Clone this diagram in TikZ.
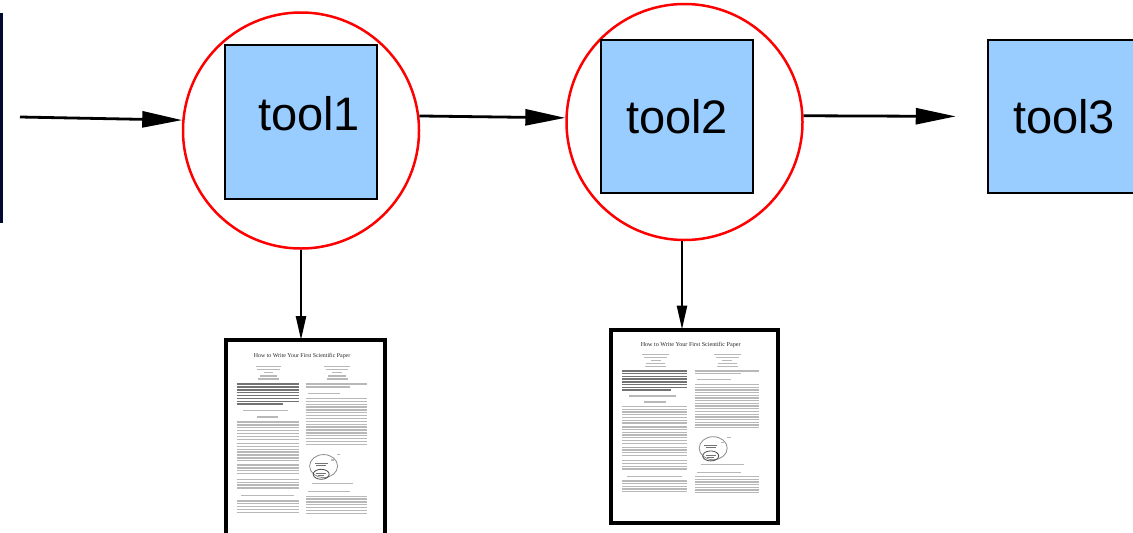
\documentclass[tikz,border=0pt]{standalone}
\usepackage{fontspec}
\setmainfont{Liberation Sans}
\newfontfamily\thumbserif{Liberation Serif}
\usetikzlibrary{arrows.meta}
\definecolor{boxblue}{HTML}{99CCFF}
\definecolor{edgenavy}{HTML}{000A33}
\tikzset{
  toolbox/.style={draw=black, line width=2.5pt, fill=boxblue, rectangle,
    minimum width=152pt, minimum height=153pt, inner sep=0pt,
    font=\fontsize{47}{56}\selectfont},
  ring/.style={draw=red, line width=2.5pt, circle, minimum size=236pt, inner sep=0pt},
  bigarrow/.style={line width=2.8pt, -{Triangle[length=40pt,width=16pt]}},
  smallarrow/.style={line width=2.5pt, -{Triangle[length=24pt,width=10pt]}},
  paperbox/.style={draw=black, line width=4pt, fill=white, rectangle, inner sep=0pt, outer sep=0pt},
  txt/.style={line width=1.3pt, black!28},
  txtdark/.style={line width=1.4pt, black!55},
}
\newcommand\thumbcontent[4]{%
  \begin{scope}[shift={(#1.north west)}, x=#2pt, y=-#3pt]
    \node[font=\fontsize{#4}{7}\selectfont\thumbserif, text=black!85, inner sep=0pt] at (0.48,0.08) {How to Write Your First Scientific Paper};
    % author blocks
    \foreach \cx in {0.27,0.70}{
      \draw[txt] (\cx-0.08,0.130) -- (\cx+0.08,0.130);
      \draw[txt] (\cx-0.07,0.145) -- (\cx+0.07,0.145);
      \draw[txt] (\cx-0.03,0.160) -- (\cx+0.03,0.160);
      \draw[txt] (\cx-0.055,0.175) -- (\cx+0.055,0.175);
      \draw[txt] (\cx-0.065,0.190) -- (\cx+0.065,0.190);
    }
    % abstract
    \foreach \y in {0.215,0.229,...,0.30}{\draw[txtdark] (0.07,\y) -- (0.46,\y);}
    \draw[txtdark] (0.07,0.313) -- (0.36,0.313);
    % keywords and heading
    \draw[txt] (0.11,0.345) -- (0.39,0.345);
    \draw[txt] (0.20,0.375) -- (0.33,0.375);
    % left column
    \foreach \y in {0.400,0.414,...,0.486}{\draw[txt] (0.07,\y) -- (0.46,\y);}
    \foreach \y in {0.505,0.519,...,0.59}{\draw[txt] (0.07,\y) -- (0.46,\y);}
    \foreach \y in {0.610,0.624,...,0.665}{\draw[txt] (0.07,\y) -- (0.46,\y);}
    \foreach \y in {0.680,0.694,...,0.735}{\draw[txt] (0.07,\y) -- (0.46,\y);}
    \draw[txt] (0.10,0.760) -- (0.43,0.760);
    \foreach \y in {0.785,0.799,...,0.85}{\draw[txt] (0.07,\y) -- (0.46,\y);}
    % right column
    \draw[txt] (0.505,0.215) -- (0.89,0.215);
    \draw[txt] (0.505,0.229) -- (0.78,0.229);
    \draw[txt] (0.52,0.260) -- (0.72,0.260);
    \foreach \y in {0.285,0.299,...,0.515}{\draw[txt] (0.505,\y) -- (0.89,\y);}
    \draw[black!45, line width=0.8pt] (0.615,0.615) ellipse [x radius=14pt, y radius=11.5pt];
    \draw[black!70, line width=0.8pt] (0.60,0.655) ellipse [x radius=8pt, y radius=5pt];
    \draw[txtdark, line width=0.9pt] (0.56,0.600) -- (0.64,0.600);
    \draw[txtdark, line width=0.9pt] (0.57,0.612) -- (0.63,0.612);
    \draw[txtdark, line width=0.9pt] (0.57,0.650) -- (0.63,0.650);
    \draw[txtdark, line width=0.9pt] (0.58,0.662) -- (0.62,0.662);
    \draw[txt] (0.66,0.585) -- (0.68,0.585);
    \draw[txt] (0.70,0.560) -- (0.72,0.560);
    \draw[txt] (0.54,0.700) -- (0.80,0.700);
    \draw[txt] (0.52,0.740) -- (0.78,0.740);
    \foreach \y in {0.762,0.776,...,0.85}{\draw[txt] (0.505,\y) -- (0.89,\y);}
  \end{scope}}
\begin{document}
\begin{tikzpicture}[x=1pt, y=-1pt]
  \useasboundingbox (0,0) rectangle (1133,533);
  \clip (0,0) rectangle (1133,533);
  \fill[white] (0,0) rectangle (1133,533);
  % left edge bar
  \fill[edgenavy] (0,13) rectangle (3,223);
  % rings and tools
  \node[ring] (c1) at (301,130.5) {};
  \node[ring] (c2) at (684.5,122) {};
  \node[toolbox, minimum height=154pt] (t1) at (301,122) {\hspace*{16pt}tool1\rule[-18pt]{0pt}{18pt}};
  \node[toolbox] (t2) at (677,116.5) {tool2};
  \node[toolbox] (t3) at (1064,116.5) {tool3};
  % papers
  \node[paperbox, minimum width=159.5pt, minimum height=205pt] (p1) at (305.25,442.5) {};
  \node[paperbox, minimum width=167pt, minimum height=193pt] (p2) at (694,426) {};
  \thumbcontent{p1}{159.5}{205}{5.9}
  \thumbcontent{p2}{167}{193}{6.1}
  % connectors
  \coordinate (in) at (20,117);
  \draw[bigarrow] (in) -- (c1.175);
  \draw[bigarrow] (c1.7) -- (c2.178);
  \draw[bigarrow, shorten >=31pt] (c2.3) -- (t3.west);
  \draw[smallarrow] (c1.south) -- (c1.south |- p1.north);
  \draw[smallarrow] ([xshift=-2.5pt]c2.south) -- ([xshift=-2.5pt]c2.south |- p2.north);
\end{tikzpicture}
\end{document}
